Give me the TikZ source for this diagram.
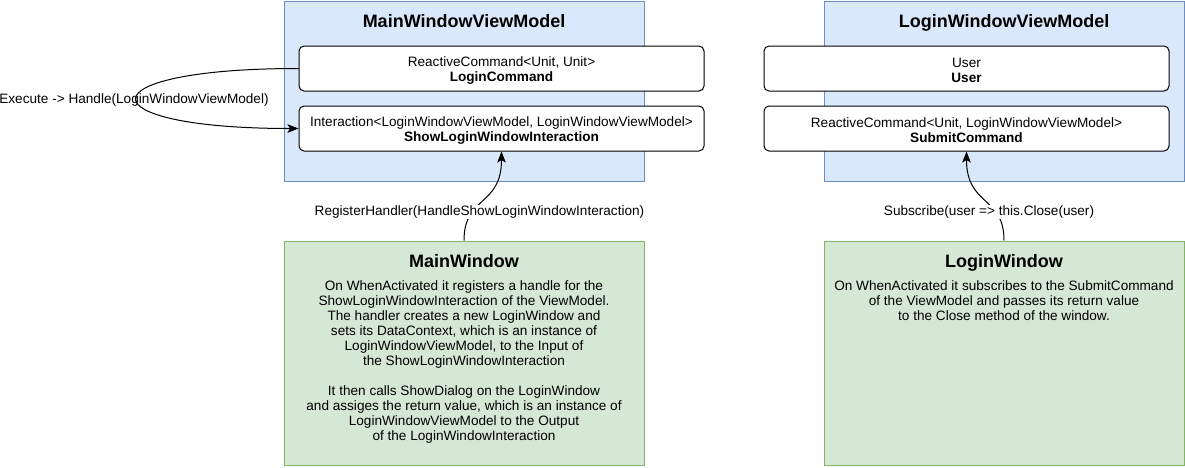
\documentclass[tikz,border=0pt]{standalone}
\usepackage{fontspec}
\setmainfont{Liberation Sans}
\usetikzlibrary{arrows.meta,positioning,calc}
\definecolor{vmfill}{HTML}{DAE8FC}
\definecolor{vmdraw}{HTML}{6C8EBF}
\definecolor{viewfill}{HTML}{D5E8D4}
\definecolor{viewdraw}{HTML}{82B366}
\newcommand{\proptop}{\rule{0pt}{14pt}}
\tikzset{
  vmbox/.style={
    rectangle, draw=vmdraw, fill=vmfill, line width=1pt,
    minimum width=360pt, minimum height=180pt
  },
  viewbox/.style={
    rectangle, draw=viewdraw, fill=viewfill, line width=1pt,
    minimum width=360pt, minimum height=224pt
  },
  boxtitle/.style={
    anchor=base, inner sep=0pt,
    font=\fontsize{18}{21.6}\selectfont\bfseries
  },
  propbox/.style={
    rectangle, rounded corners=5pt, draw=black, fill=white, line width=1pt,
    minimum width=405pt, minimum height=45pt, align=center,
    font=\fontsize{13.6}{15}\selectfont
  },
  bodytext/.style={
    anchor=north, inner sep=0pt, align=center,
    font=\fontsize{13.6}{15}\selectfont
  },
  callmsg/.style={-{Stealth[length=11pt,width=8.5pt,inset=2.5pt]}, line width=1pt},
  calllabel/.style={fill=white, inner sep=1pt, font=\fontsize{13.6}{15}\selectfont}
}

\begin{document}
\begin{tikzpicture}[x=1pt, y=-1pt]
  \useasboundingbox (0,0) rectangle (1185,467);

  % View models
  \node[vmbox] (mwvm) at (464,91) {};
  \node[boxtitle] (mwvmtitle) at (464,27.5) {MainWindowViewModel};
  \node[vmbox] (lwvm) at (1004,91) {};
  \node[boxtitle] (lwvmtitle) at (1004,27.5) {LoginWindowViewModel};

  % Properties
  \node[propbox] (logincmd) at (501.5,68.5) {\proptop ReactiveCommand<Unit, Unit>\\\textbf{LoginCommand}};
  \node[propbox] (showint)  at (501.5,128.5) {\proptop Interaction<LoginWindowViewModel, LoginWindowViewModel>\\\textbf{ShowLoginWindowInteraction}};
  \node[propbox] (user)     at (966.5,68.5) {\proptop User\\\textbf{User}};
  \node[propbox] (submitcmd) at (966.5,128.5) {\proptop ReactiveCommand<Unit, LoginWindowViewModel>\\\textbf{SubmitCommand}};

  % Views
  \node[viewbox] (mainwin) at (464,353) {};
  \node[boxtitle] (mainwintitle) at (464,267.5) {MainWindow};
  \node[bodytext] (mainwintext) at (464,280.5) {On WhenActivated it registers a handle for the\\
    ShowLoginWindowInteraction of the ViewModel.\\
    The handler creates a new LoginWindow and\\
    sets its DataContext, which is an instance of\\
    LoginWindowViewModel, to the Input of\\
    the ShowLoginWindowInteraction\\[15pt]
    It then calls ShowDialog on the LoginWindow\\
    and assiges the return value, which is an instance of\\
    LoginWindowViewModel to the Output\\
    of the LoginWindowInteraction};
  \node[viewbox] (loginwin) at (1004,353) {};
  \node[boxtitle] (loginwintitle) at (1004,267.5) {LoginWindow};
  \node[bodytext] (loginwintext) at (1004,280.5) {On WhenActivated it subscribes to the SubmitCommand\\
    of the ViewModel and passes its return value\\
    to the Close method of the window.};

  % Calls
  \draw[callmsg] (logincmd.west) .. controls +(-216,0) and +(-216,0) .. (showint.west);
  \node[font=\fontsize{13.6}{15}\selectfont] (execlabel) at (134,100) {Execute -> Handle(LoginWindowViewModel)};

  \draw[callmsg] (mainwin.north) .. controls +(0,-45) and +(0,55) .. (showint.south);
  \node[calllabel] (reglabel) at (479.5,212) {RegisterHandler(HandleShowLoginWindowInteraction)};

  \draw[callmsg] (loginwin.north) .. controls +(0,-45) and +(0,55) .. (submitcmd.south);
  \node[calllabel] (sublabel) at (989,212) {Subscribe(user => this.Close(user)};
\end{tikzpicture}
\end{document}
